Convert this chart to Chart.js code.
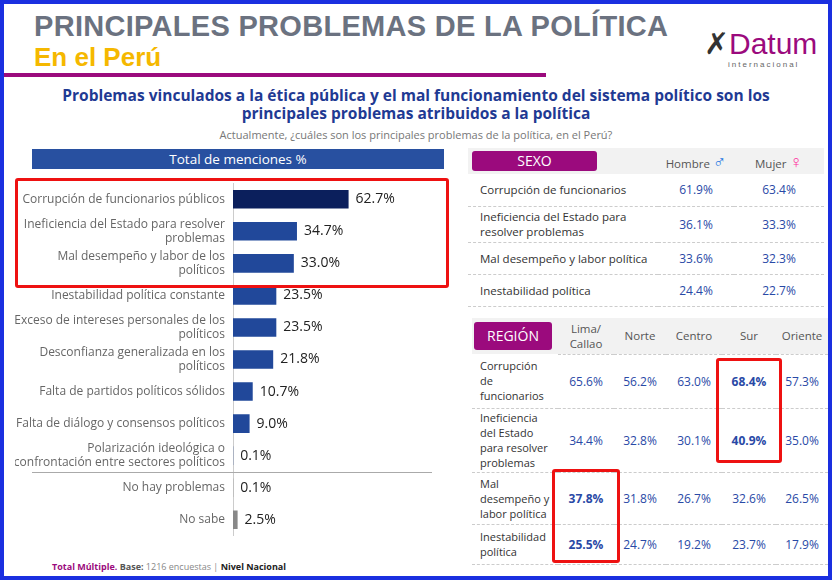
<!DOCTYPE html>
<html><head><meta charset="utf-8">
<script src="https://cdn.jsdelivr.net/npm/chart.js@4"></script>
<style>
body{margin:0;width:832px;height:580px;font-family:"Open Sans",Lato,sans-serif;overflow:hidden}
#frame{position:absolute;left:0;top:0;width:824px;height:572px;border:4px solid #1a2fe0;background:#fff}
.abs{position:absolute}
h1{position:absolute;left:30px;top:6px;margin:0;font:bold 29px "Liberation Sans",Arial,sans-serif;color:#6b7280;letter-spacing:.3px}
h2{position:absolute;left:30px;top:38px;margin:0;font:bold 26px "Liberation Sans",Arial,sans-serif;color:#f5b800}
table{border-collapse:collapse;font-size:11.5px;color:#333;table-layout:fixed}
td{border-bottom:1px dashed #ccc}
.v{color:#2949a6;text-align:center;font-size:12px}
.tag{background:#9b0a7d;color:#fff;border-radius:3px;text-align:center;font-size:14px}
.hd{color:#555;text-align:center;font-size:11.5px}
.lb{padding-left:8px;font-size:11px;white-space:nowrap}
.red{position:absolute;border:3px solid #ee1111;border-radius:3px}
</style></head><body>
<div id="frame">
<h1>PRINCIPALES PROBLEMAS DE LA POLÍTICA</h1>
<h2>En el Perú</h2>
<div class="abs" style="left:0;top:69px;width:542px;height:4px;background:#9b0a7d"></div>
<div class="abs" style="left:700px;top:22px;font:30px 'Liberation Sans',Arial;color:#9b0a7d"><span style="color:#333">✗</span>Datum</div>
<div class="abs" style="left:724px;top:56px;font:8px sans-serif;color:#666;letter-spacing:2px">internacional</div>
<div class="abs" style="left:20px;top:82px;width:784px;text-align:center;font:bold 15.5px 'Open Sans',sans-serif;color:#1f3a93;line-height:18px">Problemas vinculados a la ética pública y el mal funcionamiento del sistema político son los principales problemas atribuidos a la política</div>
<div class="abs" style="left:20px;top:123px;width:784px;text-align:center;font-size:11px;color:#777">Actualmente, ¿cuáles son los principales problemas de la política, en el Perú?</div>
<div class="abs" style="left:28px;top:145px;width:412px;height:20px;background:#2850a0;color:#fff;text-align:center;font-size:13.5px;line-height:20px">Total de menciones %</div>
<canvas id="c" width="430" height="383" class="abs" style="left:11px;top:164px"></canvas>
<div class="abs" style="left:28px;top:468px;width:400px;border-top:1px solid #aaa"></div>
<div class="red" style="left:11px;top:174px;width:428px;height:104px"></div>

<table class="abs" style="left:464px;top:144px;width:356px">
<col style="width:190px"><col style="width:76px"><col style="width:90px">
<tr style="background:#f2f2f2;height:26px"><td style="border:0;padding:2px 4px"><div class="tag" style="width:125px;line-height:20px">SEXO</div></td><td class="hd" style="border:0">Hombre <span style="color:#2a7be4;font-size:18px">♂</span></td><td class="hd" style="border:0">Mujer <span style="color:#ff2c9c;font-size:18px">♀</span></td></tr>
<tr style="height:32px"><td style="padding-left:12px">Corrupción de funcionarios</td><td class="v">61.9%</td><td class="v">63.4%</td></tr>
<tr style="height:36px"><td style="padding-left:12px">Ineficiencia del Estado para<br>resolver problemas</td><td class="v">36.1%</td><td class="v">33.3%</td></tr>
<tr style="height:32px"><td style="padding-left:12px">Mal desempeño y labor política</td><td class="v">33.6%</td><td class="v">32.3%</td></tr>
<tr style="height:32px"><td style="padding-left:12px">Inestabilidad política</td><td class="v">24.4%</td><td class="v">22.7%</td></tr>
</table>

<table class="abs" style="left:468px;top:314px;width:356px">
<col style="width:86px"><col style="width:56px"><col style="width:52px"><col style="width:56px"><col style="width:54px"><col style="width:52px">
<tr style="background:#f2f2f2;height:36px"><td style="border:0;padding:2px"><div class="tag" style="width:78px;line-height:28px">REGIÓN</div></td><td class="hd">Lima/<br>Callao</td><td class="hd">Norte</td><td class="hd">Centro</td><td class="hd">Sur</td><td class="hd">Oriente</td></tr>
<tr style="height:54px"><td class="lb">Corrupción<br>de<br>funcionarios</td><td class="v">65.6%</td><td class="v">56.2%</td><td class="v">63.0%</td><td class="v"><b>68.4%</b></td><td class="v">57.3%</td></tr>
<tr style="height:64px"><td class="lb">Ineficiencia<br>del Estado<br>para resolver<br>problemas</td><td class="v">34.4%</td><td class="v">32.8%</td><td class="v">30.1%</td><td class="v"><b>40.9%</b></td><td class="v">35.0%</td></tr>
<tr style="height:52px"><td class="lb">Mal<br>desempeño y<br>labor política</td><td class="v"><b>37.8%</b></td><td class="v">31.8%</td><td class="v">26.7%</td><td class="v">32.6%</td><td class="v">26.5%</td></tr>
<tr style="height:40px"><td class="lb">Inestabilidad<br>política</td><td class="v"><b>25.5%</b></td><td class="v">24.7%</td><td class="v">19.2%</td><td class="v">23.7%</td><td class="v">17.9%</td></tr>
</table>
<div class="red" style="left:712px;top:354px;width:60px;height:99px"></div>
<div class="red" style="left:548px;top:465px;width:62px;height:88px"></div>

<div class="abs" style="left:48px;top:556px;font-size:9px;color:#888"><b style="color:#9b0a7d">Total Múltiple.</b> <b style="color:#555">Base:</b> 1216 encuestas | <b style="color:#222">Nivel Nacional</b></div>
</div>
<script>
const categories = [
  'Corrupción de funcionarios públicos',
  ['Ineficiencia del Estado para resolver', 'problemas'],
  ['Mal desempeño y labor de los', 'políticos'],
  'Inestabilidad política constante',
  ['Exceso de intereses personales de los', 'políticos'],
  ['Desconfianza generalizada en los', 'políticos'],
  'Falta de partidos políticos sólidos',
  'Falta de diálogo y consensos políticos',
  ['Polarización ideológica o', 'confrontación entre sectores políticos'],
  'No hay problemas',
  'No sabe'
];
const values = [62.7, 34.7, 33.0, 23.5, 23.5, 21.8, 10.7, 9.0, 0.1, 0.1, 2.5];
const barColors = ['#0b1f5c', '#21489a', '#21489a', '#21489a', '#21489a', '#21489a', '#21489a', '#21489a', '#21489a', '#888888', '#888888'];

const valueLabels = {
  id: 'valueLabels',
  afterDatasetsDraw(chart) {
    const c = chart.ctx;
    c.save();
    c.font = '14px "Open Sans", sans-serif';
    c.fillStyle = '#222';
    c.textBaseline = 'middle';
    chart.getDatasetMeta(0).data.forEach((bar, i) => {
      c.fillText(values[i].toFixed(1) + '%', bar.x + 7, bar.y);
    });
    c.restore();
  }
};

new Chart(document.getElementById('c'), {
  type: 'bar',
  data: { labels: categories, datasets: [{ data: values, backgroundColor: barColors, barPercentage: 0.58, categoryPercentage: 1 }] },
  options: {
    indexAxis: 'y', responsive: false, animation: false,
    layout: { padding: 0 },
    plugins: { legend: { display: false }, tooltip: { enabled: false } },
    scales: {
      x: { min: 0, max: 115, display: false },
      y: {
        afterFit(s) { s.width = 218; },
        grid: { display: false, drawTicks: false },
        border: { color: '#ccc' },
        ticks: { color: '#666', font: { size: 12, family: 'Open Sans' }, padding: 8 }
      }
    }
  },
  plugins: [valueLabels]
});
</script>
</body></html>
